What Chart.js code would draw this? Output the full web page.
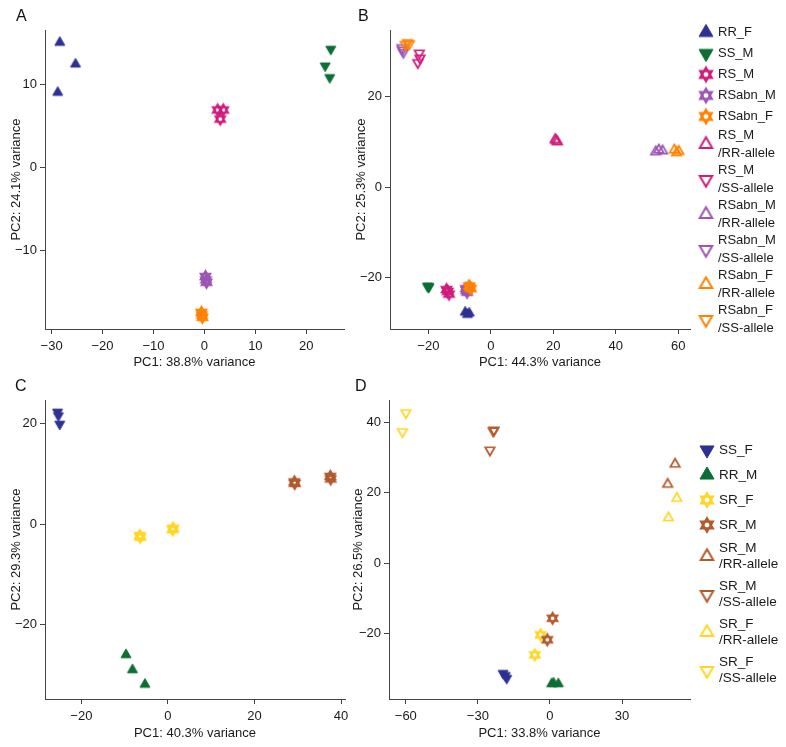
<!DOCTYPE html>
<html><head><meta charset="utf-8">
<script src="https://cdn.jsdelivr.net/npm/chart.js@4.4.0/dist/chart.umd.min.js"></script>
<style>
html,body{margin:0;padding:0;background:#fff;width:786px;height:747px;overflow:hidden;font-family:"Liberation Sans",Arial,sans-serif;}
.p{position:absolute;}
.lab{position:absolute;font-size:16px;line-height:16px;color:#111;}
</style></head><body>
<div class="p" style="left:0;top:0;"><canvas id="cA" width="350" height="370"></canvas></div>
<div class="p" style="left:0;top:370px;"><canvas id="cC" width="360" height="377"></canvas></div>
<div class="p" style="left:345px;top:0;"><canvas id="cB" width="441" height="370"></canvas></div>
<div class="p" style="left:345px;top:370px;"><canvas id="cD" width="441" height="377"></canvas></div>
<div class="lab" style="left:16px;top:8px;">A</div>
<div class="lab" style="left:358px;top:8px;">B</div>
<div class="lab" style="left:15px;top:378px;">C</div>
<div class="lab" style="left:355px;top:378px;">D</div>
<script>
// ---------- DATA ----------
// Panel A
const A_RR_F    = [[-28.4,15.0],[-25.3,12.4],[-28.8,9.0]];
const A_SS_M    = [[24.8,14.2],[23.7,12.2],[24.6,10.8]];
const A_RS_M    = [[2.6,6.9],[3.7,6.9],[3.1,5.8]];
const A_RSabn_M = [[0.2,-13.1],[0.4,-13.8],[0.3,-13.5]];
const A_RSabn_F = [[-0.6,-17.4],[-0.4,-18.0],[-0.5,-17.7]];
const A_xTicks = [-30,-20,-10,0,10,20];
const A_yTicks = [-10,0,10];

// Panel B
const B_RR_F      = [[-8.2,-27.6],[-7.5,-28.1],[-6.9,-27.8]];
const B_SS_M      = [[-20.3,-21.8],[-20.0,-22.1],[-19.8,-21.9]];
const B_RS_M      = [[-14.2,-22.6],[-13.4,-23.6],[-13.8,-23.0]];
const B_RSabn_M   = [[-8.0,-22.4],[-7.6,-23.2],[-7.8,-22.8]];
const B_RSabn_F   = [[-7.0,-21.8],[-6.4,-22.4],[-6.8,-22.0]];
const B_RS_M_RR   = [[20.9,10.3],[21.3,10.0],[20.6,10.5]];
const B_RS_M_SS   = [[-22.9,29.6],[-22.7,28.5],[-23.4,27.5]];
const B_RSabn_M_RR= [[52.8,7.8],[53.8,8.2],[55.0,8.0]];
const B_RSabn_M_SS= [[-28.3,30.3],[-28.0,29.8],[-28.5,30.8]];
const B_RSabn_F_RR= [[58.8,8.2],[59.5,7.6],[60.2,7.9]];
const B_RSabn_F_SS= [[-27.4,31.5],[-26.7,31.9],[-26.1,31.7]];
const B_xTicks = [-20,0,20,40,60];
const B_yTicks = [-20,0,20];

// Panel C
const C_SS_F = [[-25.5,22.3],[-25.3,21.6],[-25.0,19.9]];
const C_RR_M = [[-9.7,-26.0],[-8.2,-29.0],[-5.3,-31.9]];
const C_SR_F = [[-6.5,-2.3],[-6.4,-2.6],[1.1,-1.1],[1.2,-0.8]];
const C_SR_M = [[29.3,8.1],[29.2,8.4],[37.6,9.0],[37.5,9.5]];
const C_xTicks = [-20,0,20,40];
const C_yTicks = [-20,0,20];

// Panel D
const D_SS_F    = [[-19.5,-31.2],[-18.6,-31.8],[-18.0,-32.6]];
const D_RR_M    = [[0.7,-34.2],[1.5,-34.0],[3.5,-34.2]];
const D_SR_F    = [[-3.9,-20.3],[-6.3,-26.0]];
const D_SR_M    = [[1.1,-15.6],[-1.1,-21.7]];
const D_SR_M_RR = [[52.1,28.1],[49.0,22.4]];
const D_SR_M_SS = [[-23.6,37.5],[-23.3,37.8],[-25.0,32.1]];
const D_SR_F_RR = [[52.8,18.4],[49.3,12.9]];
const D_SR_F_SS = [[-60.0,42.7],[-61.4,37.3]];
const D_xTicks = [-60,-30,0,30];
const D_yTicks = [-20,0,20,40];

// ---------- STYLE ----------
const COL = {blue:'#2E3192', green:'#0B6E35', magenta:'#D01C7C', purple:'#9C55B5',
             orange:'#FF8200', yellow:'#FFD624', brown:'#B25A2C'};
const FONT = '"Liberation Sans", Arial, sans-serif';
const TXT = '#1a1a1a', AX = '#444';

function marker(shape, color, size, lw){
  const pad = Math.ceil(lw) + 2;
  const S = Math.ceil(size) + pad*2;
  const c = document.createElement('canvas'); c.width = S; c.height = S;
  const g = c.getContext('2d');
  const cx = S/2, cy = S/2;
  g.strokeStyle = color; g.fillStyle = color; g.lineWidth = lw; g.lineJoin = 'miter';
  function tri(up, w){
    const h = w*0.866;
    g.beginPath();
    if (up){ g.moveTo(cx, cy-2*h/3); g.lineTo(cx+w/2, cy+h/3); g.lineTo(cx-w/2, cy+h/3); }
    else   { g.moveTo(cx, cy+2*h/3); g.lineTo(cx+w/2, cy-h/3); g.lineTo(cx-w/2, cy-h/3); }
    g.closePath();
  }
  if (shape==='up' || shape==='down'){ tri(shape==='up', size); g.fill(); g.stroke(); }
  else if (shape==='oup' || shape==='odown'){ tri(shape==='oup', size); g.stroke(); }
  else if (shape==='star'){
    const r = size/2, k = r*0.866;
    g.beginPath(); g.moveTo(cx, cy-r); g.lineTo(cx+k, cy+r/2); g.lineTo(cx-k, cy+r/2); g.closePath(); g.stroke();
    g.beginPath(); g.moveTo(cx, cy+r); g.lineTo(cx+k, cy-r/2); g.lineTo(cx-k, cy-r/2); g.closePath(); g.stroke();
  }
  return c;
}
const PLOT_SZ = {up:[10,1], down:[10,1], oup:[9.5,1.7], odown:[9.5,1.7], star:[11,2]};
const LEG_SZ  = {up:[14,1], down:[14,1], oup:[12.5,2], odown:[12.5,2], star:[13.5,2.2]};

function fmt(v){ return v < 0 ? '\u2212' + Math.abs(v) : String(v); }

function makePanel(id, cfg){
  const datasets = cfg.series.map((s,i)=>({
    label: s.label.join(''),
    data: s.data.map(p=>({x:p[0], y:p[1]})),
    pointStyle: marker(s.shape, s.color, PLOT_SZ[s.shape][0], PLOT_SZ[s.shape][1]),
    pointRadius: 5, pointHoverRadius: 5, showLine:false, clip:false, order:-i,
    backgroundColor: s.color, borderColor: s.color
  }));
  const axisCommon = {
    grid:{display:true, drawOnChartArea:false, drawTicks:true, tickLength:5, color:AX, lineWidth:1},
    border:{display:true, color:AX, width:1},
  };
  const plugins = [];
  if (cfg.legend){
    const L = cfg.legend;
    const items = cfg.series.map(s=>({text:s.label, mk: marker(s.shape, s.color, LEG_SZ[s.shape][0], LEG_SZ[s.shape][1])}));
    plugins.push({
      id:'customLegend',
      afterDraw(chart){
        const ctx = chart.ctx; ctx.save();
        ctx.font = L.size + 'px ' + FONT; ctx.fillStyle = TXT;
        ctx.textBaseline = 'middle'; ctx.textAlign = 'left';
        let y = 0, prevH = 0;
        items.forEach((it,i)=>{
          const h = it.text.length > 1 ? L.dh : L.sh;
          y = (i===0) ? L.y0 : y + (prevH + h)/2;
          prevH = h;
          ctx.drawImage(it.mk, L.mx - it.mk.width/2, y - it.mk.height/2);
          it.text.forEach((ln,j)=> ctx.fillText(ln, L.tx, y + (j - (it.text.length-1)/2)*L.lg));
        });
        ctx.restore();
      }
    });
  }
  new Chart(document.getElementById(id), {
    type:'scatter',
    data:{datasets},
    options:{
      responsive:false, animation:false, events:[],
      layout:{padding:{left:cfg.padL, top:30, right:cfg.padR, bottom:cfg.padB}},
      plugins:{legend:{display:false}, tooltip:{enabled:false}},
      scales:{
        x:Object.assign({type:'linear', position:'bottom', min:cfg.xMin, max:cfg.xMax,
          afterBuildTicks:s=>{ s.ticks = cfg.xTicks.map(v=>({value:v})); },
          afterFit:s=>{ s.height = cfg.xH; },
          ticks:{color:TXT, font:{family:FONT, size:13}, padding:5, maxRotation:0, autoSkip:false, callback:v=>fmt(v)},
          title:{display:true, text:cfg.xTitle, color:TXT, font:{family:FONT, size:13}, padding:0}
        }, axisCommon),
        y:Object.assign({type:'linear', position:'left', min:cfg.yMin, max:cfg.yMax,
          afterBuildTicks:s=>{ s.ticks = cfg.yTicks.map(v=>({value:v})); },
          afterFit:s=>{ s.width = cfg.yW; },
          ticks:{color:TXT, font:{family:FONT, size:13}, padding:3, autoSkip:false, callback:v=>fmt(v)},
          title:{display:true, text:cfg.yTitle, color:TXT, font:{family:FONT, size:13}, padding:0}
        }, axisCommon)
      }
    },
    plugins
  });
}

makePanel('cA', {
  xMin:-31.3, xMax:27.4, yMin:-19.4, yMax:16.5, xTicks:A_xTicks, yTicks:A_yTicks,
  xTitle:'PC1: 38.8% variance', yTitle:'PC2: 24.1% variance',
  padL:9, yW:36, padR:5, padB:0, xH:41,
  series:[
    {label:['RR_F'], data:A_RR_F, shape:'up', color:COL.blue},
    {label:['SS_M'], data:A_SS_M, shape:'down', color:COL.green},
    {label:['RS_M'], data:A_RS_M, shape:'star', color:COL.magenta},
    {label:['RSabn_M'], data:A_RSabn_M, shape:'star', color:COL.purple},
    {label:['RSabn_F'], data:A_RSabn_F, shape:'star', color:COL.orange}
  ]
});

makePanel('cB', {
  xMin:-32.3, xMax:63.8, yMin:-31.3, yMax:34.7, xTicks:B_xTicks, yTicks:B_yTicks,
  xTitle:'PC1: 44.3% variance', yTitle:'PC2: 25.3% variance',
  padL:9, yW:36, padR:96, padB:0, xH:41,
  legend:{mx:361, tx:373, y0:32.5, sh:21, dh:35, lg:18, size:13},
  series:[
    {label:['RR_F'], data:B_RR_F, shape:'up', color:COL.blue},
    {label:['SS_M'], data:B_SS_M, shape:'down', color:COL.green},
    {label:['RS_M'], data:B_RS_M, shape:'star', color:COL.magenta},
    {label:['RSabn_M'], data:B_RSabn_M, shape:'star', color:COL.purple},
    {label:['RSabn_F'], data:B_RSabn_F, shape:'star', color:COL.orange},
    {label:['RS_M','/RR-allele'], data:B_RS_M_RR, shape:'oup', color:COL.magenta},
    {label:['RS_M','/SS-allele'], data:B_RS_M_SS, shape:'odown', color:COL.magenta},
    {label:['RSabn_M','/RR-allele'], data:B_RSabn_M_RR, shape:'oup', color:COL.purple},
    {label:['RSabn_M','/SS-allele'], data:B_RSabn_M_SS, shape:'odown', color:COL.purple},
    {label:['RSabn_F','/RR-allele'], data:B_RSabn_F_RR, shape:'oup', color:COL.orange},
    {label:['RSabn_F','/SS-allele'], data:B_RSabn_F_SS, shape:'odown', color:COL.orange}
  ]
});

makePanel('cC', {
  xMin:-28.4, xMax:40.9, yMin:-34.8, yMax:24.7, xTicks:C_xTicks, yTicks:C_yTicks,
  xTitle:'PC1: 40.3% variance', yTitle:'PC2: 29.3% variance',
  padL:9, yW:36, padR:15, padB:6, xH:42,
  series:[
    {label:['SS_F'], data:C_SS_F, shape:'down', color:COL.blue},
    {label:['RR_M'], data:C_RR_M, shape:'up', color:COL.green},
    {label:['SR_F'], data:C_SR_F, shape:'star', color:COL.yellow},
    {label:['SR_M'], data:C_SR_M, shape:'star', color:COL.brown}
  ]
});

makePanel('cD', {
  xMin:-67, xMax:58.3, yMin:-38.5, yMax:46.3, xTicks:D_xTicks, yTicks:D_yTicks,
  xTitle:'PC1: 33.8% variance', yTitle:'PC2: 26.5% variance',
  padL:6, yW:38, padR:96, padB:6, xH:42,
  legend:{mx:362, tx:374, y0:80, sh:25, dh:38, lg:16, size:13.5},
  series:[
    {label:['SS_F'], data:D_SS_F, shape:'down', color:COL.blue},
    {label:['RR_M'], data:D_RR_M, shape:'up', color:COL.green},
    {label:['SR_F'], data:D_SR_F, shape:'star', color:COL.yellow},
    {label:['SR_M'], data:D_SR_M, shape:'star', color:COL.brown},
    {label:['SR_M','/RR-allele'], data:D_SR_M_RR, shape:'oup', color:COL.brown},
    {label:['SR_M','/SS-allele'], data:D_SR_M_SS, shape:'odown', color:COL.brown},
    {label:['SR_F','/RR-allele'], data:D_SR_F_RR, shape:'oup', color:COL.yellow},
    {label:['SR_F','/SS-allele'], data:D_SR_F_SS, shape:'odown', color:COL.yellow}
  ]
});
</script>
</body></html>
